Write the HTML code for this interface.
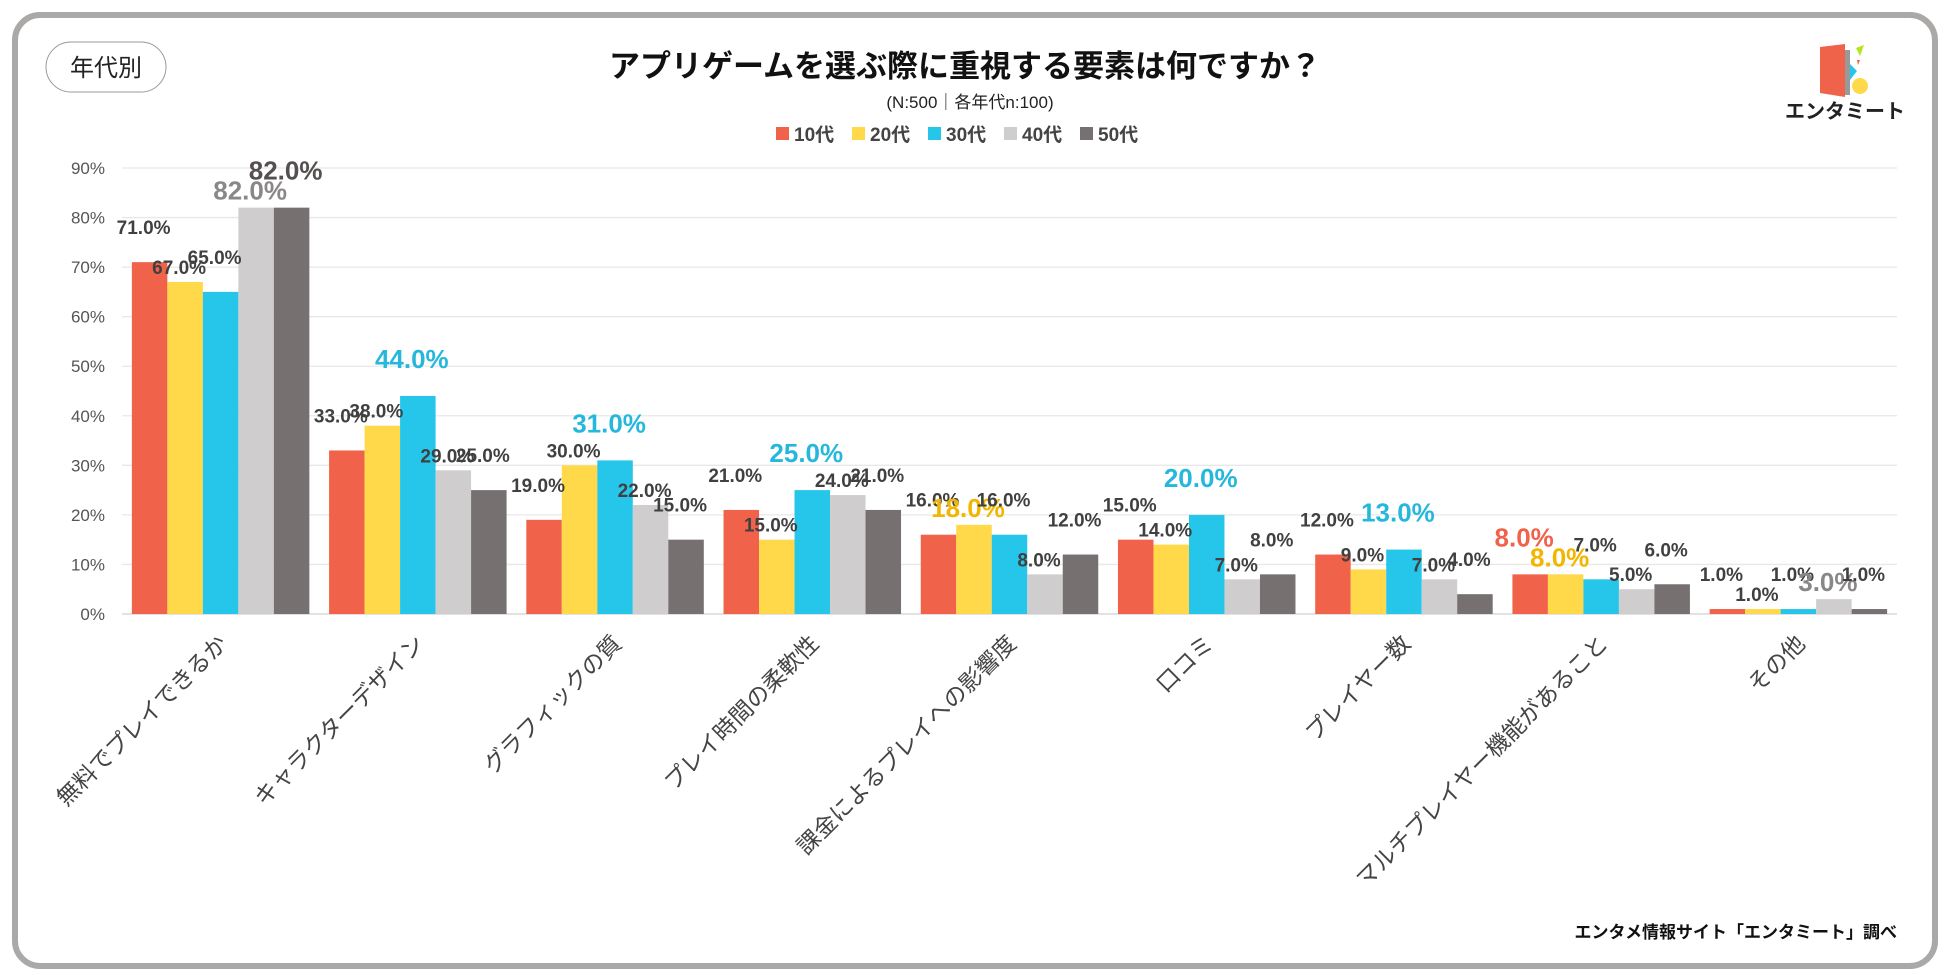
<!DOCTYPE html>
<html><head><meta charset="utf-8">
<style>
html,body{margin:0;padding:0;background:#fff;}
body{width:1950px;height:975px;overflow:hidden;position:relative;font-family:"Liberation Sans","Noto Sans CJK JP",sans-serif;}
#frame{position:absolute;left:12px;top:12px;width:1914px;height:945px;border:6px solid #aba9a8;border-radius:28px;box-sizing:content-box;}
</style></head>
<body>
<div id="frame"></div>
<svg id="chart" width="1950" height="975" style="position:absolute;left:0;top:0">
  <rect x="46" y="42" width="120" height="50" rx="25" fill="#fff" stroke="#999" stroke-width="1"/>
  <text x="106" y="76" text-anchor="middle" font-size="24" fill="#222" font-family="Liberation Sans, Noto Sans CJK JP, sans-serif">年代別</text>
  <text x="965" y="77" text-anchor="middle" font-size="31" font-weight="bold" fill="#111" font-family="Liberation Sans, Noto Sans CJK JP, sans-serif">アプリゲームを選ぶ際に重視する要素は何ですか？</text>
  <text x="970" y="108" text-anchor="middle" font-size="17" fill="#222" font-family="Liberation Sans, Noto Sans CJK JP, sans-serif">(N:500｜各年代n:100)</text>
  <g>
    <polygon points="1820,47 1845,44 1845,97 1820,93" fill="#ef634a"/>
    <rect x="1845" y="50" width="5" height="45" fill="#999"/>
    <polygon points="1850,64 1857,71 1850,80" fill="#26c6ea"/>
    <polygon points="1856,48 1864,45 1860,56" fill="#b5e61d"/>
    <polygon points="1857,60 1860,60 1858,65" fill="#ef634a"/>
    <circle cx="1860" cy="86" r="8" fill="#ffd94a"/>
    <text x="1845" y="118" text-anchor="middle" font-size="20" font-weight="bold" fill="#222" font-family="Liberation Sans, Noto Sans CJK JP, sans-serif">エンタミート</text>
  </g>
  <g id="legend"></g>
  <g id="grid"></g>
  <g id="bars"></g>
  <g id="labels"></g>
  <g id="cats"></g>
  <text x="1897" y="938" text-anchor="end" font-size="17" font-weight="bold" fill="#111" font-family="Liberation Sans, Noto Sans CJK JP, sans-serif">エンタメ情報サイト「エンタミート」調べ</text>
</svg>
<script>
const categories = ["無料でプレイできるか","キャラクターデザイン","グラフィックの質","プレイ時間の柔軟性","課金によるプレイへの影響度","口コミ","プレイヤー数","マルチプレイヤー機能があること","その他"];
const seriesNames = ["10代","20代","30代","40代","50代"];
const s10 = [71,33,19,21,16,15,12,8,1];
const s20 = [67,38,30,15,18,14,9,8,1];
const s30 = [65,44,31,25,16,20,13,7,1];
const s40 = [82,29,22,24,8,7,7,5,3];
const s50 = [82,25,15,21,12,8,4,6,1];
const yTicks = [0,10,20,30,40,50,60,70,80,90];

const series = [s10,s20,s30,s40,s50];
const colors = ["#f0634a","#ffd94a","#26c6ea","#cfcdce","#767070"];
const hiColors = ["#f0634a","#f2b600","#26b8dc","#8a8787","#555050"];
const NS = "http://www.w3.org/2000/svg";
const FF = "Liberation Sans, Noto Sans CJK JP, sans-serif";
const plotL = 122, plotR = 1897, y0 = 614, y90 = 168;
function yScale(v){ return y0 - (v/90)*(y0-y90); }
const groupW = (plotR-plotL)/categories.length;
const barW = groupW*0.18;
function xBar(ci,si){ return plotL + ci*groupW + (groupW - barW*5)/2 + si*barW; }
function mk(tag, attrs, parent){ const e=document.createElementNS(NS,tag); for(const k in attrs) e.setAttribute(k,attrs[k]); parent.appendChild(e); return e; }

const grid = document.getElementById('grid');
yTicks.forEach(t=>{
  const y=yScale(t);
  const l=mk('line',{x1:plotL,x2:plotR,y1:y,y2:y,stroke:t===0?'#d0d0d0':'#e8e8e8','stroke-width':1.3},grid);
  
  
  const tx=mk('text',{x:plotL-17,y:y+6,'text-anchor':'end','font-size':17,fill:'#555','font-family':FF},grid);
  tx.textContent=t+'%';
  
  
});

const bars=document.getElementById('bars'), labels=document.getElementById('labels'), cats=document.getElementById('cats');
categories.forEach((c,ci)=>{
  let maxV=Math.max(...series.map(s=>s[ci]));
  series.forEach((s,si)=>{
    const v=s[ci], x=xBar(ci,si), y=yScale(v);
    const r=mk('rect',{x:x,y:y,width:barW,height:y0-y,fill:colors[si]},bars);
    
    
    const hi = v===maxV && maxV>=3;
    const t=mk('text',{x:x+barW/2-6,y:y-(si%2?8:28),'text-anchor':'middle','font-size':hi?26:19,'font-weight':'bold',fill:hi?hiColors[si]:'#404040','font-family':FF},labels);
    t.textContent=v.toFixed(1)+'%';
    
    
  });
  const cx=plotL+ci*groupW+groupW/2+8, cy=645;
  const ct=mk('text',{x:cx,y:cy,'text-anchor':'end','font-size':23,fill:'#444','font-family':FF,transform:'rotate(-45 '+cx+' '+cy+')'},cats);
  ct.textContent=c;
  
  
});

const legend=document.getElementById('legend');
let lx=776;
seriesNames.forEach((n,i)=>{
  const x=lx+i*76;
  const r=mk('rect',{x:x,y:127,width:13,height:13,fill:colors[i]},legend);
  
  
  const t=mk('text',{x:x+18,y:141,'font-size':19,'font-weight':'bold',fill:'#444','font-family':FF},legend);
  t.textContent=n;
  
  
});
</script>
</body></html>
